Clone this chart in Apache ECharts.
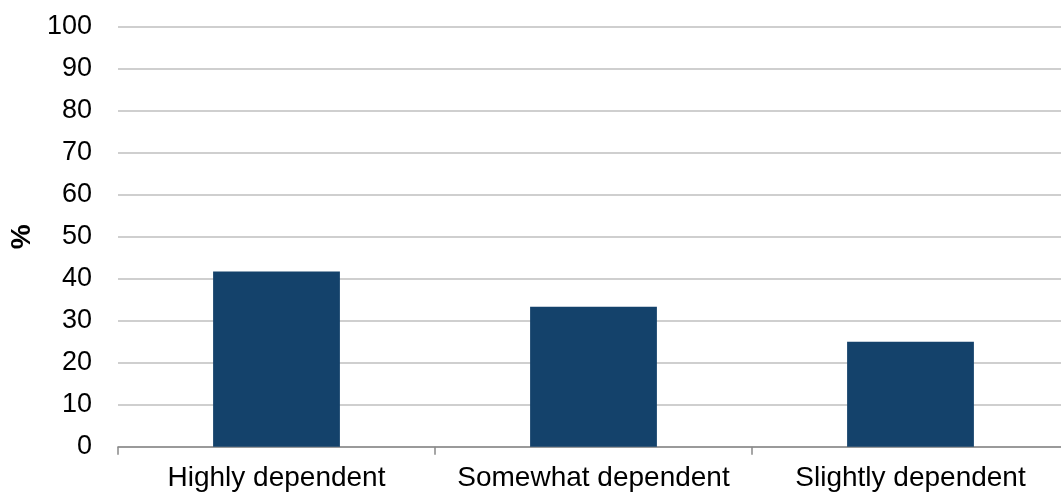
<!DOCTYPE html>
<html><head><meta charset="utf-8">
<script src="https://cdn.jsdelivr.net/npm/echarts@6/dist/echarts.min.js"></script>
<style>html,body{margin:0;padding:0;background:#fff}#c{width:1061px;height:495px}</style>
</head><body><div id="c"></div>
<script>
const categories = ["Highly dependent", "Somewhat dependent", "Slightly dependent"];
const values = [41.7, 33.3, 25.0];
const yTicks = [0, 100, 10];

const chart = echarts.init(document.getElementById('c'), null, {renderer: 'canvas'});
chart.setOption({
  animation: false,
  backgroundColor: '#ffffff',
  textStyle: {fontFamily: 'Liberation Sans, Arial, sans-serif'},
  grid: {left: 118, width: 951, top: 26.7, height: 420, containLabel: false, outerBoundsMode: 'none'},
  xAxis: {
    type: 'category',
    data: categories,
    boundaryGap: true,
    axisLine: {show: true, lineStyle: {color: '#898989', width: 1.5}},
    axisTick: {show: true, interval: 0, alignWithLabel: false, length: 8, lineStyle: {color: '#898989', width: 1.5}},
    axisLabel: {color: '#000', fontSize: 28, margin: 18, interval: 0, hideOverlap: false, fontFamily: 'Liberation Sans, Arial, sans-serif'},
    splitLine: {show: false}
  },
  yAxis: {
    type: 'value',
    min: yTicks[0], max: yTicks[1], interval: yTicks[2],
    name: '%',
    nameLocation: 'middle',
    nameRotate: 90,
    nameGap: 77,
    nameTextStyle: {color: '#000', fontSize: 28, fontWeight: 'bold', fontFamily: 'Liberation Sans, Arial, sans-serif'},
    axisLine: {show: false},
    axisTick: {show: false},
    axisLabel: {color: '#000', fontSize: 27, margin: 26, fontFamily: 'Liberation Sans, Arial, sans-serif'},
    splitLine: {show: true, lineStyle: {color: '#bfbfbf', width: 1.5}}
  },
  series: [{
    type: 'bar',
    data: values,
    barWidth: '40%',
    itemStyle: {color: '#14426b'}
  }]
});
</script></body></html>
